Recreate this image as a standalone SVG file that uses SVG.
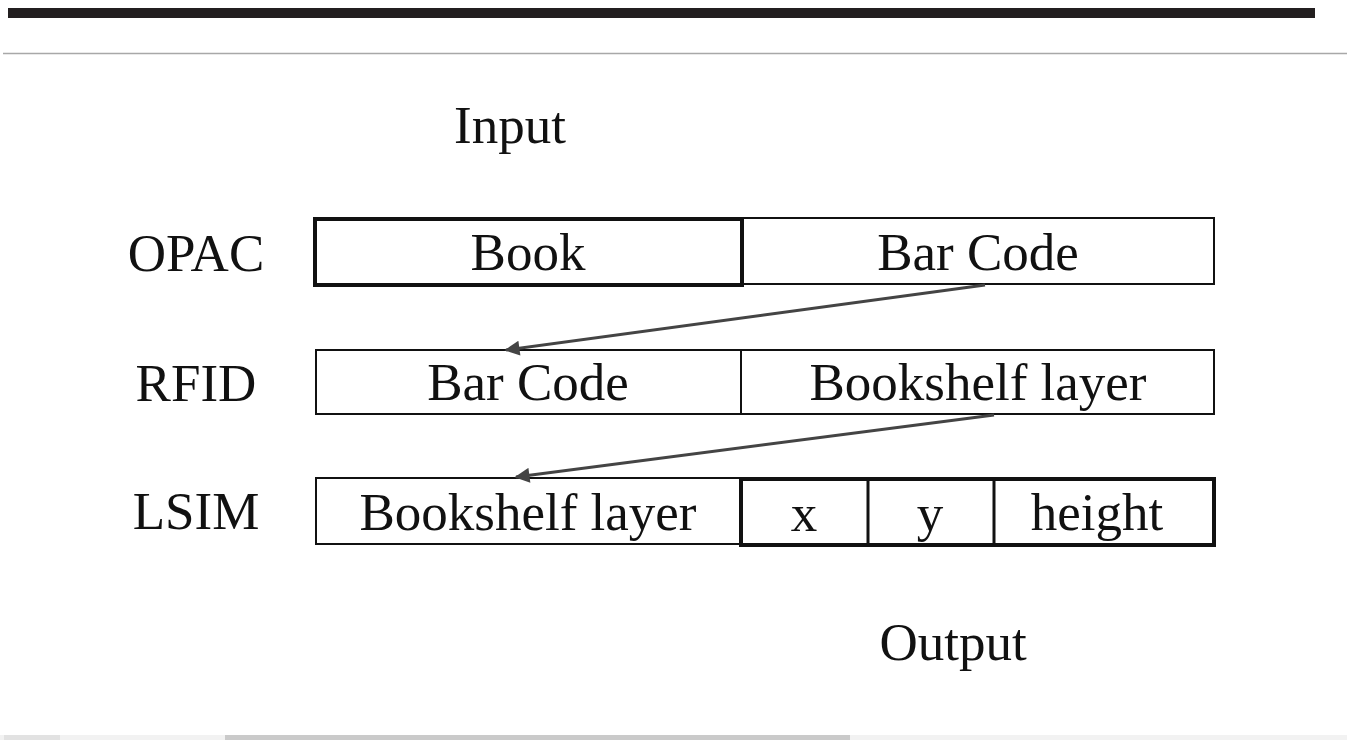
<svg xmlns="http://www.w3.org/2000/svg" width="1347" height="740" viewBox="0 0 1347 740">
  <style>
    .t { font-family: "Liberation Serif", "Times New Roman", serif; font-size: 53px; fill: #111; text-anchor: middle; }
    .thin { fill: #fff; stroke: #111; stroke-width: 2; }
    .conn { stroke: #444; stroke-width: 3; fill: none; marker-end: url(#ah); }
  </style>
  <defs>
    <marker id="ah" viewBox="0 0 10 10" refX="9" refY="5" markerWidth="5.5" markerHeight="5" orient="auto" markerUnits="strokeWidth">
      <path d="M0,0 L10,5 L0,10 z" fill="#444"/>
    </marker>
  </defs>
  <rect width="1347" height="740" fill="#fff"/>
  <g id="header">
    <rect x="8" y="8" width="1307" height="10" fill="#231f20"/>
    <line x1="3" y1="53.5" x2="1347" y2="53.5" stroke="#a8a8a8" stroke-width="1.5"/>
  </g>
  <g id="footer">
    <rect x="0" y="735" width="1347" height="5" fill="#f2f2f2"/>
    <rect x="4" y="735" width="56" height="5" fill="#e2e2e2"/>
    <rect x="225" y="735" width="625" height="5" fill="#cacaca"/>
  </g>
  <g id="input-label"><text class="t" x="510" y="143">Input</text></g>
  <g id="output-label"><text class="t" x="953" y="660">Output</text></g>

  <g id="row-opac">
    <text class="t" x="196" y="271">OPAC</text>
    <rect class="thin" x="741" y="218" width="473" height="66"/>
    <text class="t" x="978" y="270">Bar Code</text>
    <rect class="thin" x="315" y="219" width="427" height="66" style="stroke-width:4"/>
    <text class="t" x="528" y="270">Book</text>
  </g>

  <g id="row-rfid">
    <text class="t" x="196" y="401">RFID</text>
    <rect class="thin" x="316" y="350" width="425" height="64"/>
    <text class="t" x="528" y="400">Bar Code</text>
    <rect class="thin" x="741" y="350" width="473" height="64"/>
    <text class="t" x="978" y="400">Bookshelf layer</text>
  </g>

  <g id="row-lsim">
    <text class="t" x="196" y="529">LSIM</text>
    <rect class="thin" x="316" y="478" width="425" height="66"/>
    <text class="t" x="528" y="530">Bookshelf layer</text>
    <rect class="thin" x="741" y="479" width="473" height="66" style="stroke-width:4"/>
    <line x1="868" y1="479" x2="868" y2="545" stroke="#111" stroke-width="3"/>
    <line x1="994" y1="479" x2="994" y2="545" stroke="#111" stroke-width="3"/>
    <text class="t" x="804" y="531">x</text>
    <text class="t" x="930" y="531">y</text>
    <text class="t" x="1097" y="530">height</text>
  </g>

  <g id="connectors">
    <line class="conn" x1="985" y1="285" x2="506" y2="350"/>
    <line class="conn" x1="994" y1="415" x2="516" y2="477"/>
  </g>
</svg>
